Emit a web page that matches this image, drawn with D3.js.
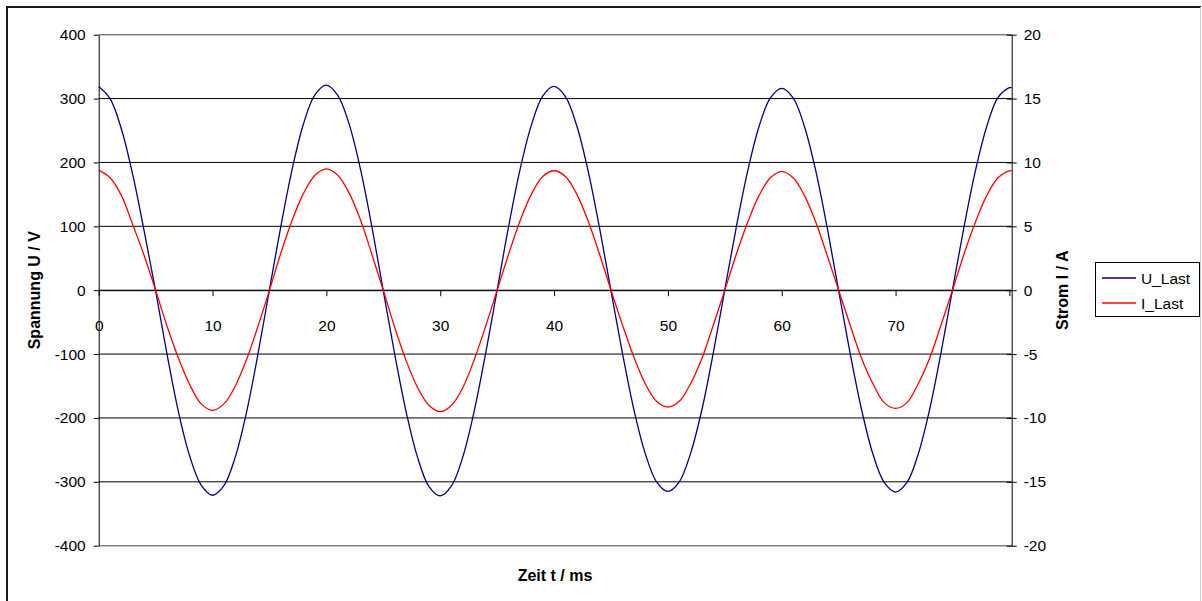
<!DOCTYPE html>
<html>
<head>
<meta charset="utf-8">
<script src="https://cdn.jsdelivr.net/npm/d3@7"></script>
<style>
  body { margin: 0; background: #fff; }
  text { font-family: 'Liberation Sans', Arial, sans-serif; }
</style>
</head>
<body>
<div id="app"></div>
<script>
// time in ms (one reading per ms, plus the last sample at the right edge)
const time_ms = [
  0, 1, 2, 3, 4, 5, 6, 7, 8, 9, 10, 11, 12, 13, 14, 15, 16, 17, 18, 19,
  20, 21, 22, 23, 24, 25, 26, 27, 28, 29, 30, 31, 32, 33, 34, 35, 36, 37, 38, 39,
  40, 41, 42, 43, 44, 45, 46, 47, 48, 49, 50, 51, 52, 53, 54, 55, 56, 57, 58, 59,
  60, 61, 62, 63, 64, 65, 66, 67, 68, 69, 70, 71, 72, 73, 74, 75, 76, 77, 78, 79,
  80, 80.2
]

// U_Last in V (left axis)
const u_last = [
  319, 300, 252, 180, 92, -1, -100, -190, -260, -305, -321, -306, -261, -190, -99, 1, 100, 190, 261, 306,
  321, 305, 260, 189, 99, -1, -100, -190, -261, -307, -322, -306, -260, -188, -98, 0, 99, 188, 258, 304,
  319, 303, 257, 186, 97, -1, -98, -186, -255, -300, -315, -300, -255, -186, -97, 1, 98, 186, 256, 301,
  316, 301, 256, 186, 97, -1, -98, -186, -256, -301, -316, -301, -256, -186, -97, 1, 98, 186, 256, 302,
  317, 317
]

// I_Last in A (right axis)
const i_last = [
  9.4, 8.8, 7.4, 5.1, 2.7, 0, -2.8, -5.3, -7.4, -8.9, -9.4, -8.9, -7.5, -5.4, -2.8, 0, 2.9, 5.5, 7.6, 9.0,
  9.5, 9.0, 7.6, 5.5, 2.8, 0, -2.9, -5.5, -7.6, -9.0, -9.5, -9.0, -7.6, -5.4, -2.8, 0, 2.8, 5.4, 7.5, 8.9,
  9.35, 8.9, 7.5, 5.4, 2.8, 0, -2.7, -5.2, -7.3, -8.7, -9.15, -8.7, -7.3, -5.3, -2.7, 0, 2.8, 5.3, 7.4, 8.8,
  9.3, 8.8, 7.4, 5.3, 2.7, 0, -2.7, -5.3, -7.3, -8.8, -9.25, -8.8, -7.3, -5.3, -2.7, 0, 2.8, 5.3, 7.4, 8.8,
  9.35, 9.35
]

const x_ticks = [0, 10, 20, 30, 40, 50, 60, 70, 80]
const x_labels = ['0', '10', '20', '30', '40', '50', '60', '70', '']
const u_ticks = [-400, -300, -200, -100, 0, 100, 200, 300, 400]
const i_ticks = [-20, -15, -10, -5, 0, 5, 10, 15, 20]
const series_names = ['U_Last', 'I_Last']
const series_colors = ['#000080', '#ff0000']

const app = d3.select('#app')
const svg = d3.create('svg').attr('width', 1202).attr('height', 601)

const plot_left = 98.7, plot_right = 1011.7, plot_top = 34.7, plot_bottom = 545.7

const x_scale = d3.scaleLinear().domain([0, 80.2]).range([plot_left, plot_right])
const u_scale = d3.scaleLinear().domain([-400, 400]).range([plot_bottom, plot_top])
const i_scale = d3.scaleLinear().domain([-20, 20]).range([plot_bottom, plot_top])

// plain hyphen for negatives, like the original
const plain = (d) => String(d)

// outer chart border
svg.append('path')
  .attr('d', `M7,601 V7 H1201`)
  .attr('fill', 'none').attr('stroke', '#1a1a1a').attr('stroke-width', 2)
svg.append('line')
  .attr('x1', 1200.5).attr('x2', 1200.5).attr('y1', 7).attr('y2', 601)
  .attr('stroke', '#d0d0d0')

// horizontal gridlines
svg.append('g')
  .selectAll('line')
  .data(u_ticks)
  .join('line')
  .attr('x1', plot_left).attr('x2', plot_right)
  .attr('y1', (d) => u_scale(d)).attr('y2', (d) => u_scale(d))
  .attr('stroke', (d) => (Math.abs(d) === 400 ? '#808080' : '#000'))
  .attr('stroke-width', (d) => (Math.abs(d) === 400 ? 1.6 : 1))

// left axis
const axis_left = svg.append('g')
  .attr('transform', `translate(${plot_left},0)`)
  .call(d3.axisLeft(u_scale).tickValues(u_ticks).tickFormat(plain)
    .tickSize(5).tickSizeOuter(0).tickPadding(8))
// right axis, ticks cross the line
const axis_right = svg.append('g')
  .attr('transform', `translate(${plot_right},0)`)
  .call(d3.axisRight(i_scale).tickValues(i_ticks).tickFormat(plain)
    .tickSize(5).tickSizeOuter(0).tickPadding(7))
axis_right.selectAll('.tick line').attr('x1', -5)

// x axis sits on the zero line
const axis_bottom = svg.append('g')
  .attr('transform', `translate(0,${u_scale(0)})`)
  .call(d3.axisBottom(x_scale).tickValues(x_ticks).tickSize(6).tickSizeOuter(0).tickPadding(24)
    .tickFormat((d, i) => x_labels[i]))

;[axis_left, axis_right, axis_bottom].forEach((a) => {
  a.selectAll('path').attr('stroke', '#000')
  a.selectAll('line').attr('stroke', '#000')
  a.selectAll('text').attr('font-size', 15.5).attr('fill', '#000')
    .attr('font-family', "'Liberation Sans', Arial, sans-serif")
})

// series lines
const line_u = d3.line()
  .x((d, i) => x_scale(time_ms[i]))
  .y((d) => u_scale(d))
  .curve(d3.curveCatmullRom)
const line_i = d3.line()
  .x((d, i) => x_scale(time_ms[i]))
  .y((d) => i_scale(d))
  .curve(d3.curveCatmullRom)

svg.append('path').attr('d', line_u(u_last))
  .attr('fill', 'none').attr('stroke', series_colors[0]).attr('stroke-width', 1.3)
svg.append('path').attr('d', line_i(i_last))
  .attr('fill', 'none').attr('stroke', series_colors[1]).attr('stroke-width', 1.3)

// axis titles
svg.append('text')
  .attr('transform', `translate(40,${(plot_top + plot_bottom) / 2}) rotate(-90)`)
  .attr('text-anchor', 'middle').attr('font-weight', 'bold').attr('font-size', 16)
  .text('Spannung U / V')
svg.append('text')
  .attr('transform', `translate(1068,${(plot_top + plot_bottom) / 2}) rotate(-90)`)
  .attr('text-anchor', 'middle').attr('font-weight', 'bold').attr('font-size', 16)
  .text('Strom I / A')
svg.append('text')
  .attr('x', 555).attr('y', 581)
  .attr('text-anchor', 'middle').attr('font-weight', 'bold').attr('font-size', 16)
  .text('Zeit t / ms')

// legend
const legend = svg.append('g')
legend.append('rect')
  .attr('x', 1095.5).attr('y', 262.5).attr('width', 104).attr('height', 54)
  .attr('fill', '#fff').attr('stroke', '#000')
const legend_item = legend.selectAll('g')
  .data(series_names)
  .join('g')
  .attr('transform', (d, i) => `translate(0,${278 + i * 25})`)
legend_item.append('line')
  .attr('x1', 1102).attr('x2', 1136)
  .attr('stroke', (d, i) => series_colors[i]).attr('stroke-width', 1.3)
legend_item.append('text')
  .attr('x', 1141).attr('y', 5.5).attr('font-size', 15.5)
  .text((d) => d)

app.append(() => svg.node())
</script>
</body>
</html>
